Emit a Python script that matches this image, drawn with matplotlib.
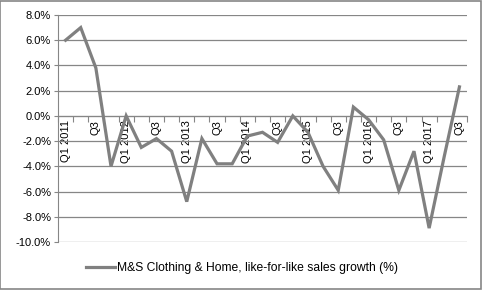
import numpy as np
import matplotlib
matplotlib.use("Agg")
import matplotlib.pyplot as plt
from matplotlib.patches import Rectangle
from matplotlib.ticker import FuncFormatter

# =====================================
# DADOS
# =====================================

quarters = [
    "Q1 2011", "Q2", "Q3", "Q4",
    "Q1 2012", "Q2", "Q3", "Q4",
    "Q1 2013", "Q2", "Q3", "Q4",
    "Q1 2014", "Q2", "Q3", "Q4",
    "Q1 2015", "Q2", "Q3", "Q4",
    "Q1 2016", "Q2", "Q3", "Q4",
    "Q1 2017", "Q2", "Q3",
]

lfl_growth = [
    6.0, 7.0, 3.8, -4.0,
    0.0, -2.5, -1.8, -2.8,
    -6.8, -1.8, -3.8, -3.8,
    -1.6, -1.3, -2.1, 0.0,
    -1.3, -4.0, -5.9, 0.7,
    -0.3, -1.9, -5.9, -2.8,
    -8.9, -3.2, 2.3,
]

series_label = "M&S Clothing & Home, like-for-like sales growth (%)"

# =====================================
# GRAFICO
# =====================================

plt.rcParams["font.family"] = ["Liberation Sans", "DejaVu Sans"]
grid_col = "#868686"
line_col = "#808080"

fig = plt.figure(figsize=(4.82, 2.90), dpi=100)
fig.patches.append(Rectangle((0.001, 0.002), 0.997, 0.995, transform=fig.transFigure,
                             fill=False, edgecolor=grid_col, linewidth=1.2))

ax = fig.add_axes([0.1203, 0.1655, 0.8486, 0.7828])

x = np.arange(len(lfl_growth))
ax.plot(x, lfl_growth, color=line_col, linewidth=2.3, solid_joinstyle="miter",
        label=series_label, zorder=3)

ax.set_xlim(-0.5, len(lfl_growth) - 0.5)
ax.set_ylim(-10, 8)
ax.set_yticks(np.arange(-10, 8.1, 2))
ax.yaxis.set_major_formatter(FuncFormatter(lambda v, p: f"{v:.1f}%"))
ax.yaxis.grid(True, color=grid_col, linewidth=0.9)
ax.set_axisbelow(True)

# eixo x cruzando em zero
ax.spines["bottom"].set_position(("data", 0))
ax.spines["bottom"].set_color(grid_col)
ax.spines["left"].set_color(grid_col)
ax.spines["top"].set_visible(False)
ax.spines["right"].set_visible(False)

# marcas entre categorias, rotulos a cada 2 trimestres
ax.set_xticks(np.arange(-0.5, len(lfl_growth), 1))
ax.set_xticklabels([])
ax.tick_params(axis="x", which="major", length=4, color=grid_col)
ax.set_xticks(x[::2], minor=True)
ax.set_xticklabels(quarters[::2], minor=True, rotation=90, fontsize=8)
ax.tick_params(axis="x", which="minor", length=0, pad=3)
ax.tick_params(axis="y", length=3, color=grid_col, labelsize=8, pad=2)

fig.legend(loc="center", bbox_to_anchor=(0.502, 1 - 268 / 290), frameon=False,
           fontsize=8.7, handlelength=2.4, handletextpad=0.1)

plt.savefig("out.png", dpi=100)
plt.close()
